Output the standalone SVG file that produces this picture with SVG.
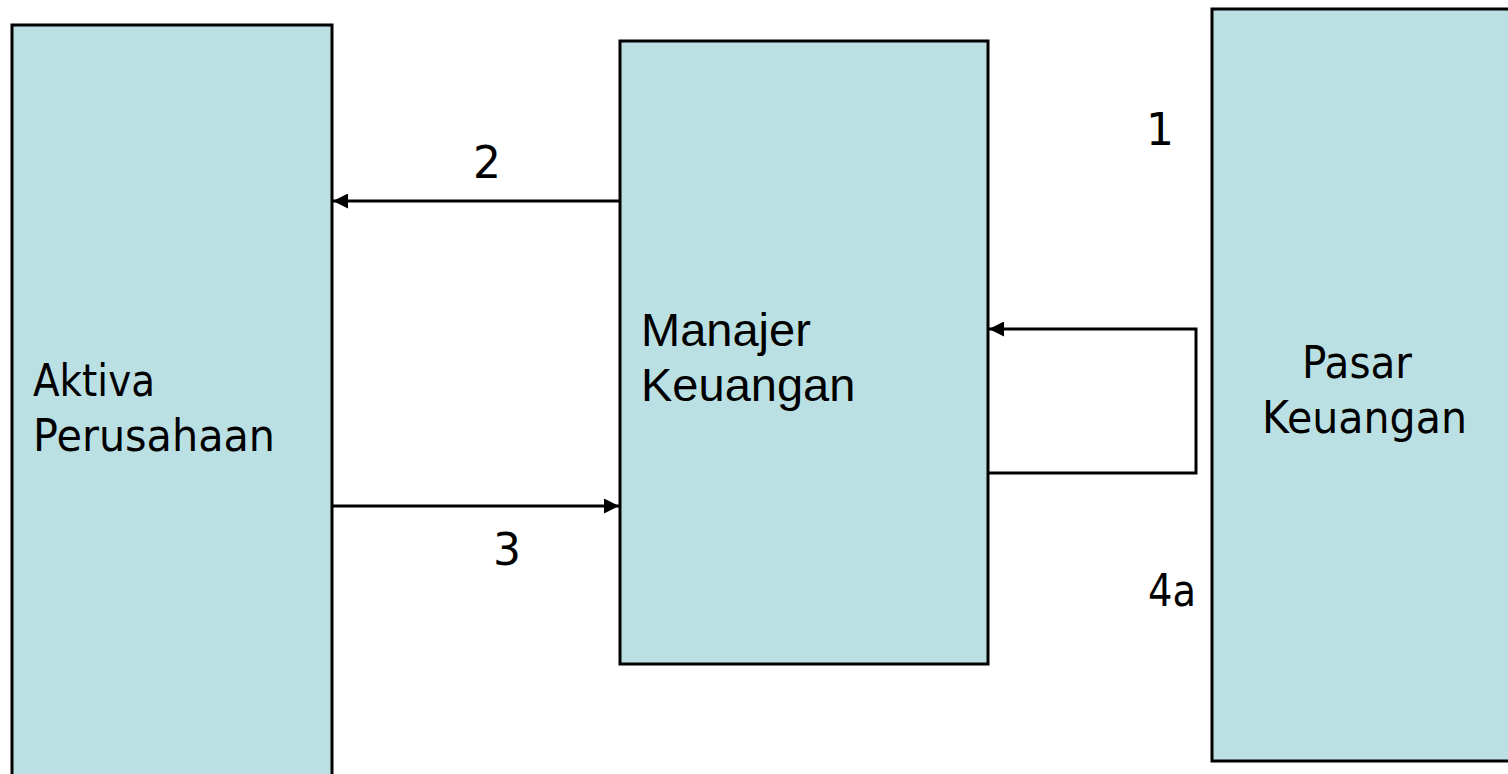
<svg xmlns="http://www.w3.org/2000/svg" width="1508" height="774" viewBox="0 0 1508 774">
<defs>
<style>
.box{fill:#BBE0E3;stroke:#000;stroke-width:3}
.t{font-family:"DejaVu Sans",Tahoma,Verdana,sans-serif;font-size:44px;fill:#000}
.a{font-family:"Liberation Sans",Arial,sans-serif;font-size:47px;fill:#000}
.c{fill:none;stroke:#000;stroke-width:3}
</style>
<marker id="ah" viewBox="0 0 10 10" refX="10" refY="5" markerWidth="5" markerHeight="5" markerUnits="strokeWidth" orient="auto"><path d="M0,0L10,5L0,10z" fill="#000"/></marker>
</defs>
<rect width="1508" height="774" fill="#fff"/>
<g id="aktiva">
<rect class="box" x="12" y="25" width="320" height="760"/>
<text class="t" x="33" y="396" textLength="122" lengthAdjust="spacingAndGlyphs">Aktiva</text>
<text class="t" x="33" y="451" textLength="242" lengthAdjust="spacingAndGlyphs">Perusahaan</text>
</g>
<g id="manajer">
<rect class="box" x="620" y="41" width="368" height="623"/>
<text class="a" x="641" y="346">Manajer</text>
<text class="a" x="641" y="401">Keuangan</text>
</g>
<g id="pasar">
<rect class="box" x="1212" y="9" width="310" height="752"/>
<text class="t" x="1302" y="378" textLength="110" lengthAdjust="spacingAndGlyphs">Pasar</text>
<text class="t" x="1262" y="433" textLength="205" lengthAdjust="spacingAndGlyphs">Keuangan</text>
</g>
<g id="connectors">
<line class="c" x1="620" y1="201" x2="333" y2="201" marker-end="url(#ah)"/>
<line class="c" x1="332" y1="506" x2="619" y2="506" marker-end="url(#ah)"/>
<polyline class="c" points="988,473 1196,473 1196,329 989,329" marker-end="url(#ah)"/>
</g>
<g id="labels">
<text class="t" x="1160" y="145" text-anchor="middle">1</text>
<text class="t" x="487" y="178" text-anchor="middle">2</text>
<text class="t" x="507" y="565" text-anchor="middle">3</text>
<text class="t" x="1148" y="606" textLength="48" lengthAdjust="spacingAndGlyphs">4a</text>
</g>
</svg>
